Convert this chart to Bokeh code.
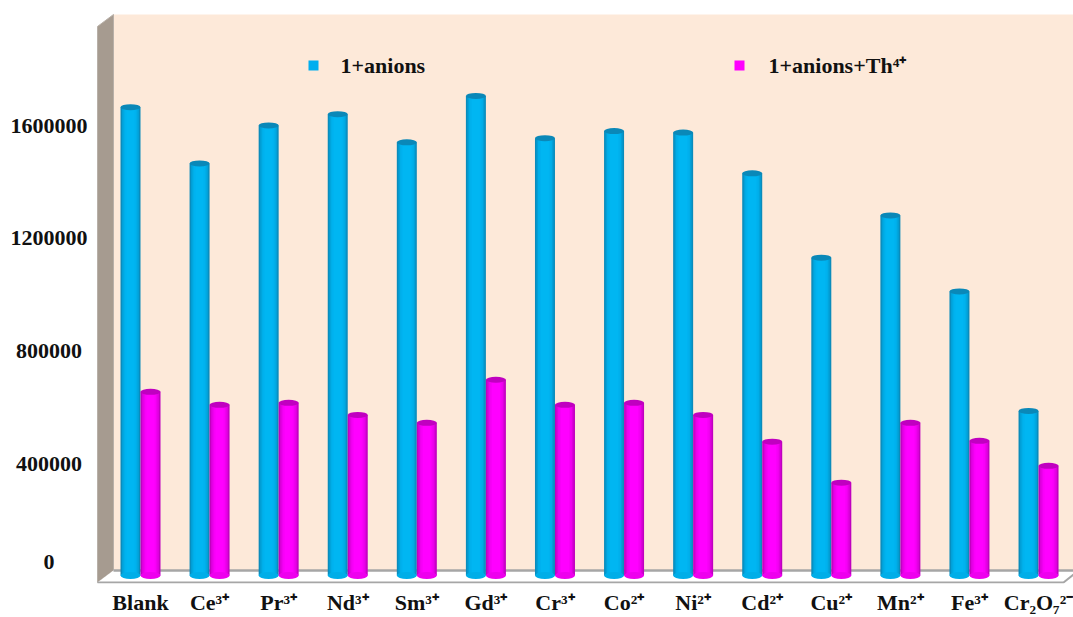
from bokeh.core.properties import value
from bokeh.embed import file_html
from bokeh.models import FixedTicker, Range1d
from bokeh.plotting import figure
from bokeh.resources import INLINE

# Emission intensity for each added ion
categories = ["Blank", "Ce³⁺", "Pr³⁺", "Nd³⁺", "Sm³⁺", "Gd³⁺", "Cr³⁺", "Co²⁺", "Ni²⁺", "Cd²⁺",
              "Cu²⁺", "Mn²⁺", "Fe³⁺", "Cr₂O₇²⁻"]
anions = [1665000, 1465000, 1600000, 1640000, 1540000, 1705000, 1555000, 1580000, 1575000,
          1430000, 1130000, 1280000, 1010000, 585000]
anions_th = [653000, 607000, 614000, 571000, 543000, 696000, 607000, 614000, 571000,
             476000, 330000, 543000, 479000, 390000]
y_ticks = [400000, 800000, 1200000, 1600000]
series_names = ["1+anions", "1+anions+Th⁴⁺"]

W, H = 1073, 617
LEFT, BOTTOM = 92, 584          # plot frame edges in canvas pixels
ZERO_PX, PX_PER_UNIT = 576, 112.7 / 400000
X0_PX, STEP_PX = 140, 69.08
FONT = "Liberation Serif"
FONT_SIZE = "22px"
ZERO_LABEL_LIFT = 49680         # the "0" label sits a little above the floor
NBSP = "\u00a0"                 # trailing padding centres the value labels in their column


def xd(px):
    return (px - X0_PX) / STEP_PX


def yd(px):
    return (ZERO_PX - px) / PX_PER_UNIT


p = figure(width=W, height=H, output_backend="svg", toolbar_location=None,
           x_range=Range1d(xd(LEFT), xd(W)), y_range=Range1d(yd(BOTTOM), yd(0)),
           min_border_left=LEFT, min_border_right=0, min_border_top=0,
           min_border_bottom=H - BOTTOM, outline_line_color=None,
           background_fill_color="white", border_fill_color="white")
p.grid.visible = False

# Axes: labels only, the box frame is drawn as glyphs
xa, ya = p.xaxis[0], p.yaxis[0]
xa.ticker = FixedTicker(ticks=list(range(len(categories))))
xa.major_label_overrides = {i: c for i, c in enumerate(categories)}
ya.ticker = FixedTicker(ticks=[ZERO_LABEL_LIFT] + y_ticks)
ya.major_label_overrides = {ZERO_LABEL_LIFT: "0" + NBSP * 6,
                            **{t: str(t) + NBSP * (7 - len(str(t))) for t in y_ticks}}
for ax in (xa, ya):
    ax.axis_line_color = None
    ax.major_tick_line_color = None
    ax.minor_tick_line_color = None
    ax.major_tick_out = 0
    ax.major_tick_in = 0
    ax.minor_tick_out = 0
    ax.minor_tick_in = 0
    ax.major_label_text_font = FONT
    ax.major_label_text_font_style = "bold"
    ax.major_label_text_font_size = FONT_SIZE
    ax.major_label_text_color = "#111111"
xa.major_label_standoff = 6
ya.major_label_standoff = 5

# Chart box: back wall, side wall, floor
p.patch([xd(113), xd(W), xd(W), xd(113)], [yd(14), yd(14), yd(571), yd(571)],
        fill_color="#fde9d9", line_color=None)
p.patch([xd(97), xd(113), xd(113), xd(97)], [yd(26), yd(14), yd(571), yd(583)],
        fill_color="#a69b90", line_color="#b8b0a8", line_width=1)
p.patch([xd(97), xd(113), xd(W), xd(W), xd(1063)], [yd(583), yd(571), yd(571), yd(575), yd(583)],
        fill_color="white", line_color=None)
p.line([xd(113), xd(W)], [yd(571), yd(571)], line_color="#a6a6a6", line_width=2.5)
p.line([xd(97), xd(1063), xd(W)], [yd(583), yd(583), yd(575)], line_color="#a6a6a6", line_width=2)

# Cylinders: nested bars, outermost first, give the rounded shading
BAR_W = 20
blue_shades = ["#0a8cbc", "#02a0d8", "#00aee8", "#00b2ef", "#00b6f2"]
pink_shades = ["#c000c0", "#dc00dc", "#ee00ee", "#f800f8", "#ff00ff"]


def cylinders(vals, shift_px, shades, top_color):
    xs = [i + shift_px / STEP_PX for i in range(len(vals))]
    for k, col in enumerate(shades):
        p.vbar(x=xs, top=vals, bottom=0, width=(BAR_W - 3 * k) / STEP_PX,
               fill_color=col, line_color=None)
    p.ellipse(x=xs, y=[0] * len(vals), width=BAR_W, height=7, width_units="screen",
              height_units="screen", fill_color=shades[2], line_color=None)
    p.ellipse(x=xs, y=vals, width=BAR_W, height=6, width_units="screen",
              height_units="screen", fill_color=top_color, line_color=None)


cylinders(anions, -10, blue_shades, "#0a88b8")
cylinders(anions_th, 10, pink_shades, "#c000c0")

# Key placed inside the chart box
p.scatter([xd(313), xd(739)], [yd(65), yd(65)], marker="square", size=10,
          color=["#00aeef", "#ff00ff"], line_color=None)
p.text([xd(340), xd(768)], [yd(65), yd(65)], text=series_names, text_font=value(FONT),
       text_font_style="bold", text_font_size=FONT_SIZE, text_baseline="middle",
       text_color="#111111")

open("out.html", "w").write(file_html(p, INLINE))
